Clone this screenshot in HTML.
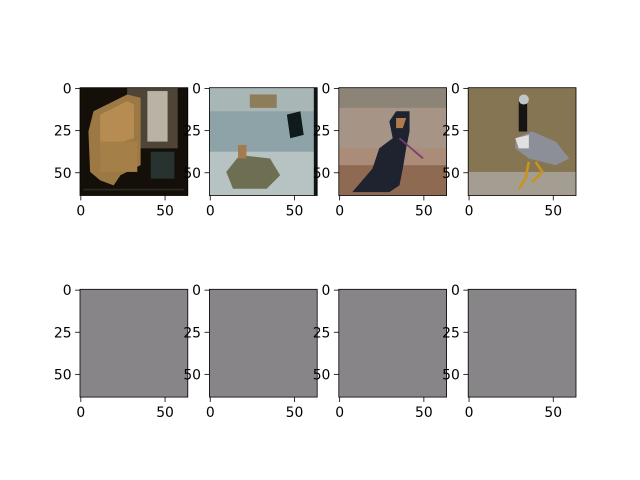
<!DOCTYPE html>
<html><head><meta charset="utf-8"><style>
body{margin:0;background:#fff;width:640px;height:480px;overflow:hidden}
svg{display:block}
text{font-family:"DejaVu Sans","Liberation Sans",sans-serif;font-size:13.9px;fill:#000}
</style></head><body>
<svg id="fig" width="640" height="480" viewBox="0 0 640 480" xmlns="http://www.w3.org/2000/svg">
<defs>
<g id="img0">
<rect width="64" height="64" fill="#141009"/>
<rect x="28" y="0" width="30" height="36" fill="#4e4537"/>
<rect x="40" y="2" width="12" height="30" fill="#b9b3a6"/>
<path d="M8,14 L28,4 L36,6 L36,46 L24,52 L20,58 L12,55 L6,50 L5,26 Z" fill="#9b7844"/>
<path d="M12,16 L28,8 L32,10 L32,30 L12,36 Z" fill="#b68c52"/>
<rect x="12" y="32" width="22" height="18" fill="#a57f48"/>
<rect x="42" y="38" width="14" height="16" fill="#26332e"/>
<rect x="2" y="60" width="60" height="1" fill="#2b2a24"/>
</g>
<g id="img1">
<rect width="64" height="64" fill="#8ea3a8"/>
<rect y="0" width="64" height="14" fill="#a9b6b6"/>
<rect y="38" width="64" height="26" fill="#b7c2c3"/>
<rect x="24" y="4" width="16" height="8" fill="#8e7d5b"/>
<path d="M10,50 L18,40 L36,42 L42,52 L34,60 L14,60 Z" fill="#6e6f52"/>
<rect x="17" y="34" width="5" height="8" fill="#a47b50"/>
<path d="M46,16 L54,14 L56,28 L48,30 Z" fill="#0f1a1d"/>
<rect x="62" y="0" width="2" height="64" fill="#121414"/>
</g>
<g id="img2">
<rect width="64" height="64" fill="#ab8c78"/>
<rect width="64" height="12" fill="#8d8478"/>
<rect y="12" width="64" height="24" fill="#a69586"/>
<rect y="46" width="64" height="18" fill="#8f6a52"/>
<path d="M8,62 L20,48 L24,36 L32,30 L30,20 L34,14 L42,14 L42,26 L40,36 L38,48 L36,58 L30,62 Z" fill="#1f2330"/>
<path d="M34,18 L40,18 L38,24 L34,24 Z" fill="#b07a4a"/>
<path d="M36,30 L50,42" stroke="#7a3c70" stroke-width="1"/>
</g>
<g id="img3">
<rect width="64" height="64" fill="#857552"/>
<rect y="50" width="64" height="14" fill="#a39d92"/>
<rect x="30" y="6" width="5" height="20" fill="#151516"/>
<circle cx="33" cy="7" r="3" fill="#c3c6c8"/>
<path d="M28,30 L38,26 L52,32 L60,42 L52,46 L36,42 L28,36 Z" fill="#8c8f98"/>
<path d="M28,30 L36,28 L36,36 L30,36 Z" fill="#e0e0e0"/>
<path d="M36,44 L34,54 L30,60 M40,44 L44,50 L38,56" stroke="#c8931f" stroke-width="1.6" fill="none"/>
</g>
</defs>
<g id="axes-layer"></g>
</svg>
<script>
const xTickValues = [0, 50];
const yTickValues = [0, 25, 50];
const imageExtent = [64, 64];
const imageIds = ["img0", "img1", "img2", "img3"];
const outputGray = ["#878588", "#878588", "#878588", "#878588"];
const colLeft = [80, 209.4, 338.8, 468.2];
const rowTop = [87.7, 289.3];
const size = 107.8;
const NS = "http://www.w3.org/2000/svg";
const layer = document.getElementById("axes-layer");
function mk(tag, attrs, parent){const e=document.createElementNS(NS,tag);for(const k in attrs)e.setAttribute(k,attrs[k]);(parent||layer).appendChild(e);return e;}
const sc = size / imageExtent[0];
const pos = v => (v + 0.5) * sc;
for (let r = 0; r < 2; r++) {
  for (let c = 0; c < 4; c++) {
    const x0 = colLeft[c], y0 = rowTop[r];
    const g = mk("g", {});
    
    
    if (r === 0) {
      mk("use", {href: "#" + imageIds[c], transform: `translate(${x0},${y0}) scale(${sc})`}, g);
    } else {
      mk("rect", {x: x0, y: y0, width: size, height: size, fill: outputGray[c]}, g);
    }
    mk("rect", {x: x0, y: y0, width: size, height: size, fill: "none", stroke: "#000", "stroke-width": 0.8}, g);
    xTickValues.forEach(v => {
      const px = x0 + pos(v);
      mk("line", {x1: px, y1: y0 + size, x2: px, y2: y0 + size + 4.9, stroke: "#000", "stroke-width": 0.8}, g);
      const tx = mk("text", {x: px, y: y0 + size + 20, "text-anchor": "middle"}, g);
      tx.textContent = v;
      
      
    });
    yTickValues.forEach(v => {
      const py = y0 + pos(v);
      mk("line", {x1: x0, y1: py, x2: x0 - 4.9, y2: py, stroke: "#000", "stroke-width": 0.8}, g);
      const ty = mk("text", {x: x0 - 8.4, y: py + 5, "text-anchor": "end"}, g);
      ty.textContent = v;
      
      
    });
  }
}
</script>
</body></html>
